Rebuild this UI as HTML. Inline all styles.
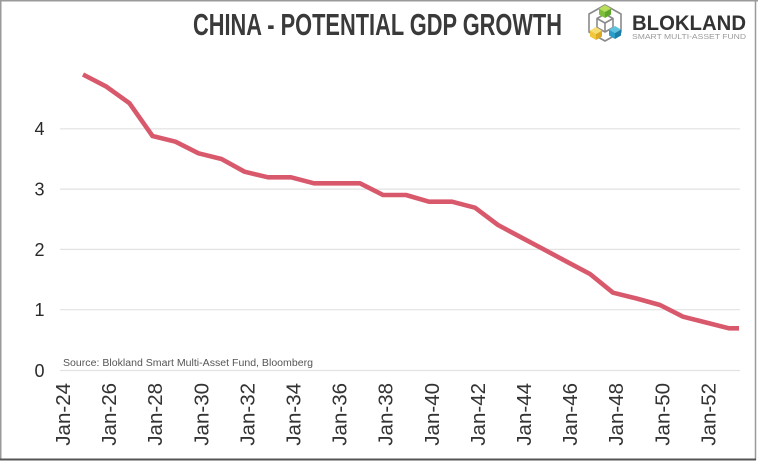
<!DOCTYPE html>
<html>
<head>
<meta charset="utf-8">
<style>
  html, body { margin: 0; padding: 0; background: #fff; }
  body { width: 758px; height: 462px; overflow: hidden; }
  svg { display: block; }
  text { font-family: "Liberation Sans", Arial, sans-serif; }
</style>
</head>
<body>
<svg width="758" height="462" viewBox="0 0 758 462" xmlns="http://www.w3.org/2000/svg">
  <rect x="0" y="0" width="758" height="462" fill="#fff"/>
  <!-- frame -->
  <line x1="0" y1="0.75" x2="758" y2="0.75" stroke="#9a9a9a" stroke-width="1.5"/>
  <line x1="0.75" y1="0" x2="0.75" y2="460" stroke="#9a9a9a" stroke-width="1.5"/>
  <line x1="755.5" y1="0" x2="755.5" y2="460" stroke="#9a9a9a" stroke-width="1.5"/>
  <line x1="0" y1="459.5" x2="756" y2="459.5" stroke="#555" stroke-width="2"/>

  <!-- title -->
  <text x="193" y="35" font-size="31" font-weight="bold" fill="#3a3a3a" textLength="369" lengthAdjust="spacingAndGlyphs">CHINA - POTENTIAL GDP GROWTH</text>

  <!-- logo icon -->
  <g stroke="#8a8a8a" stroke-width="1.6" fill="none" stroke-linejoin="round">
    <polygon points="605,5 621,14 621,32 605,41 589,32 589,14"/>
    <polygon points="605,14 613,18.5 613,27.5 605,32 597,27.5 597,18.5"/>
    <line x1="605" y1="23" x2="605" y2="32"/>
    <line x1="605" y1="23" x2="597" y2="18.5"/>
    <line x1="605" y1="23" x2="613" y2="18.5"/>
  </g>
  <!-- green cube top -->
  <g>
    <polygon points="605,5 611,8.5 605,12 599,8.5" fill="#b8de5a"/>
    <polygon points="599,8.5 605,12 605,18 599,14.5" fill="#7cbf3a"/>
    <polygon points="611,8.5 605,12 605,18 611,14.5" fill="#5ea52c"/>
  </g>
  <!-- yellow cube bottom-left -->
  <g>
    <polygon points="596,27 602,30.5 596,34 590,30.5" fill="#f7de72"/>
    <polygon points="590,30.5 596,34 596,40 590,36.5" fill="#f0c63a"/>
    <polygon points="602,30.5 596,34 596,40 602,36.5" fill="#dcaa22"/>
  </g>
  <!-- blue cube bottom-right -->
  <g>
    <polygon points="615,26 621,29.5 615,33 609,29.5" fill="#5fc3e0"/>
    <polygon points="609,29.5 615,33 615,39 609,35.5" fill="#2a9ec8"/>
    <polygon points="621,29.5 615,33 615,39 621,35.5" fill="#1c7fa8"/>
  </g>
  <text x="632" y="30" font-size="21" font-weight="bold" fill="#333" textLength="114" lengthAdjust="spacingAndGlyphs">BLOKLAND</text>
  <text x="632" y="39" font-size="7" fill="#9a9a9a" textLength="114" lengthAdjust="spacingAndGlyphs">SMART MULTI-ASSET FUND</text>

  <!-- gridlines -->
  <g stroke="#e2e2e2" stroke-width="1.2">
    <line x1="60" y1="128.8" x2="740" y2="128.8"/>
    <line x1="60" y1="189.1" x2="740" y2="189.1"/>
    <line x1="60" y1="249.4" x2="740" y2="249.4"/>
    <line x1="60" y1="309.7" x2="740" y2="309.7"/>
    <line x1="60" y1="370.5" x2="740" y2="370.5"/>
  </g>

  <!-- y labels -->
  <g font-size="18" fill="#2a2a2a" text-anchor="end">
    <text x="44.5" y="135">4</text>
    <text x="44.5" y="195.5">3</text>
    <text x="44.5" y="255.8">2</text>
    <text x="44.5" y="316">1</text>
    <text x="44.5" y="377">0</text>
  </g>

  <!-- source -->
  <text x="63" y="366" font-size="10" fill="#555" textLength="250" lengthAdjust="spacingAndGlyphs">Source: Blokland Smart Multi-Asset Fund, Bloomberg</text>

  <!-- x labels -->
  <g font-size="20.5" fill="#333" text-anchor="end">
    <text transform="translate(70,383) rotate(-90)">Jan-24</text>
    <text transform="translate(116.1,383) rotate(-90)">Jan-26</text>
    <text transform="translate(162.2,383) rotate(-90)">Jan-28</text>
    <text transform="translate(208.3,383) rotate(-90)">Jan-30</text>
    <text transform="translate(254.4,383) rotate(-90)">Jan-32</text>
    <text transform="translate(300.5,383) rotate(-90)">Jan-34</text>
    <text transform="translate(346.6,383) rotate(-90)">Jan-36</text>
    <text transform="translate(392.7,383) rotate(-90)">Jan-38</text>
    <text transform="translate(438.8,383) rotate(-90)">Jan-40</text>
    <text transform="translate(484.9,383) rotate(-90)">Jan-42</text>
    <text transform="translate(531,383) rotate(-90)">Jan-44</text>
    <text transform="translate(577.1,383) rotate(-90)">Jan-46</text>
    <text transform="translate(623.2,383) rotate(-90)">Jan-48</text>
    <text transform="translate(669.3,383) rotate(-90)">Jan-50</text>
    <text transform="translate(715.4,383) rotate(-90)">Jan-52</text>
  </g>

  <!-- series -->
  <polyline fill="none" stroke="#d9596c" stroke-width="4.6" stroke-linejoin="round" stroke-linecap="butt"
    points="83,74.5 106.5,86.7 129.5,103.3 152.5,136 175.5,141.7 198.5,153.3 221.5,159 244.5,171.7 268,177.3 291,177.3 314,183.3 337,183.3 360,183.3 383,195 406,195 429,201.7 452,201.7 475,207.7 498,225 521,237.3 544,249.5 567,261.8 590,274 613,292.7 637,298.6 660,305 683,316.7 706,322.5 729,328.3 739,328.3"/>
</svg>
</body>
</html>
